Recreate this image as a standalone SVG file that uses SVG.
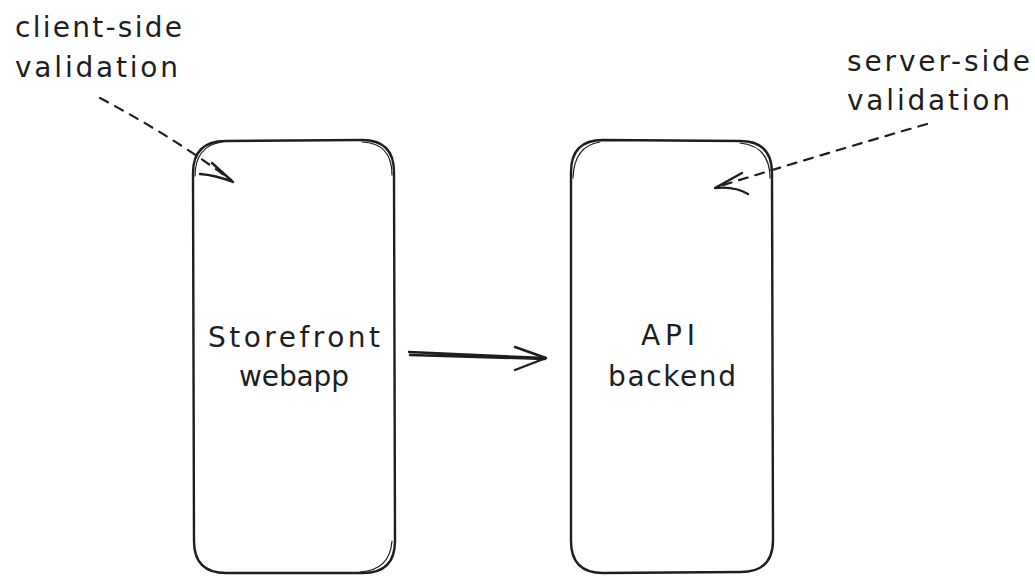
<svg xmlns="http://www.w3.org/2000/svg" width="1035" height="576" viewBox="0 0 1035 576">
<style>
.t{font-family:"DejaVu Sans","Liberation Sans",sans-serif;font-size:28px;fill:#1e1e1e}
.box{fill:none;stroke:#1e1e1e;stroke-width:2.4;stroke-linecap:round;stroke-linejoin:round}
.box2{fill:none;stroke:#1e1e1e;stroke-width:1.2;stroke-linecap:round}
.dash{fill:none;stroke:#1e1e1e;stroke-width:2.2;stroke-dasharray:9 8;stroke-linecap:round}
.ln{fill:none;stroke:#1e1e1e;stroke-width:2.4;stroke-linecap:round;stroke-linejoin:round}
</style>
<rect width="1035" height="576" fill="#ffffff"/>
<g id="storefront">
<path class="box" d="M226 141 L362 140 Q394 140 394 172 L395 541 Q395 573 363 573 L226 573 Q194 573 194 541 L193 173 Q193 141 226 141 Z"/>
<path class="box2" d="M222 142 Q195 146 195 176 M362 142 Q392 143 392 175 M392 541 Q390 570 360 572"/>
<text class="t" x="294" y="347" text-anchor="middle" textLength="172" lengthAdjust="spacing">Storefront</text>
<text class="t" x="294" y="386" text-anchor="middle" textLength="110" lengthAdjust="spacing">webapp</text>
</g>
<g id="api">
<path class="box" d="M603 140 L740 141 Q772 141 772 173 L773 540 Q773 572 741 572 L603 573 Q571 573 571 541 L571 172 Q571 140 603 140 Z"/>
<path class="box2" d="M600 142 Q574 146 573 178 M740 143 Q770 146 770 178"/>
<text class="t" x="668" y="345" text-anchor="middle" textLength="54" lengthAdjust="spacing">API</text>
<text class="t" x="672" y="386" text-anchor="middle" textLength="128" lengthAdjust="spacing">backend</text>
</g>
<g id="client-label">
<text class="t" x="15" y="37" textLength="167" lengthAdjust="spacing">client-side</text>
<text class="t" x="15" y="77" textLength="163" lengthAdjust="spacing">validation</text>
</g>
<g id="server-label">
<text class="t" x="847" y="71" textLength="183" lengthAdjust="spacing">server-side</text>
<text class="t" x="847" y="110" textLength="163" lengthAdjust="spacing">validation</text>
</g>
<g id="connectors">
<path class="dash" d="M100 98 Q170 135 231 180"/>
<path class="ln" d="M233 182 L212 163 M233 182 Q215 175 200 174"/>
<path class="dash" d="M927 124 Q820 155 717 187"/>
<path class="ln" d="M715 188 L742 173 M715 188 Q735 186 748 194"/>
<path class="ln" d="M409 352 L545 358 M410 355 L545 359"/>
<path class="ln" d="M546 358 L515 347 M546 358 L515 370"/>
</g>
</svg>
